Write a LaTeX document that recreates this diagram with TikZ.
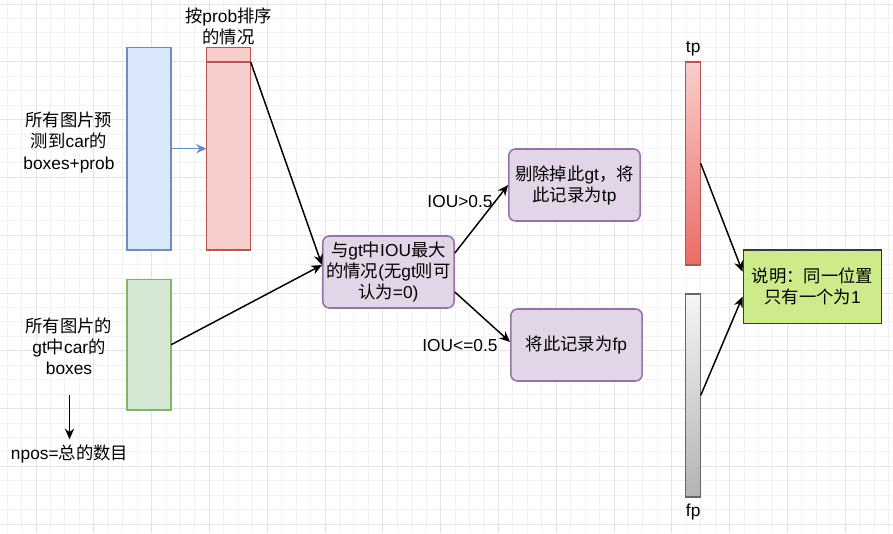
\documentclass[tikz,border=0pt]{standalone}
\usepackage{fontspec}
\setmainfont{Liberation Sans}
\newfontfamily\cjkfont{Noto Sans CJK SC}
% switch to the CJK font for Han characters and full-width punctuation
\XeTeXinterchartokenstate=1
\newXeTeXintercharclass\cjkchars
\newcount\cjkcode
\cjkcode="4E00
\loop\ifnum\cjkcode<"A000 \XeTeXcharclass\cjkcode=\cjkchars \advance\cjkcode by 1 \repeat
\XeTeXcharclass"FF0C=\cjkchars
\XeTeXcharclass"FF1A=\cjkchars
\XeTeXinterchartoks 0 \cjkchars={\begingroup\cjkfont}
\XeTeXinterchartoks 4095 \cjkchars={\begingroup\cjkfont}
\XeTeXinterchartoks \cjkchars 0={\endgroup}
\XeTeXinterchartoks \cjkchars 4095={\endgroup}
\usepackage{xcolor}
\definecolor{blueFill}{HTML}{DAE8FC}
\definecolor{blueLine}{HTML}{6C8EBF}
\definecolor{redFill}{HTML}{F8CECC}
\definecolor{redLine}{HTML}{B85450}
\definecolor{redDeep}{HTML}{EA6B66}
\definecolor{greenFill}{HTML}{D5E8D4}
\definecolor{greenLine}{HTML}{82B366}
\definecolor{purpleFill}{HTML}{E1D5E7}
\definecolor{purpleLine}{HTML}{9673A6}
\definecolor{noteFill}{HTML}{CDEB8B}
\definecolor{noteLine}{HTML}{36393D}
\definecolor{greyTop}{HTML}{F5F5F5}
\definecolor{greyBottom}{HTML}{B3B3B3}
\definecolor{greyLine}{HTML}{666666}
\definecolor{gridMinor}{HTML}{F2F2F2}
\definecolor{gridMajor}{HTML}{E3E3E3}
\usepackage{tikz}
\usetikzlibrary{arrows.meta, positioning, calc}

\begin{document}
\begin{tikzpicture}[
    x=0.75pt, y=-0.75pt,
    font=\fontsize{13}{15.8}\selectfont,
    >=Stealth,
    column/.style={draw, rectangle, line width=1.15pt, inner sep=0pt, outer sep=0pt, minimum width=33pt},
    decide/.style={draw=purpleLine, fill=purpleFill, rounded corners=5pt, line width=1.15pt, align=center,
                   minimum width=98.5pt, minimum height=54pt, inner sep=2pt},
    lbl/.style={align=center, inner sep=1pt},
    arr/.style={->, line width=1.1pt, -{Stealth[length=8pt, width=7pt]}}
]

% ── Canvas and grid ──
\useasboundingbox (0,0) rectangle (893,533);
\fill[white] (0,0) rectangle (893,533);
\foreach \i in {0,...,63} \draw[gridMinor, line width=0.6pt] ({-21.9+14.45*\i},0) -- ++(0,533);
\foreach \j in {0,...,38} \draw[gridMinor, line width=0.6pt] (0,{-10.55+14.45*\j}) -- ++(893,0);
\foreach \i in {0,...,15} \draw[gridMajor, line width=0.6pt] ({-21.9+57.8*\i},0) -- ++(0,533);
\foreach \j in {0,...,9} \draw[gridMajor, line width=0.6pt] (0,{3.9+57.8*\j}) -- ++(893,0);

% ── Left columns ──
\node[column, draw=blueLine, fill=blueFill, minimum height=152pt] (blue_col) at (149.2,148.7) {};
\node[column, draw=redLine, fill=redFill, minimum height=152pt] (red_col) at (228.7,148.7) {};
\node[column, draw=redLine, fill=redFill, minimum height=11pt] (red_top) at (228.7,54.7) {};
\node[column, draw=greenLine, fill=greenFill, minimum height=98pt] (green_col) at (149.2,344.7) {};

\node[lbl] (pred_lbl) at (69,142.5) {所有图片预\\测到car的\\boxes+prob};
\node[lbl] (sort_lbl) at (228.5,26.5) {按prob排序\\的情况};
\node[lbl] (gt_lbl) at (69,346) {所有图片的\\gt中car的\\boxes};
\node[lbl, inner sep=4pt] (npos_lbl) at (69.5,454) {npos=总的数目};
\coordinate (npos_start) at (69.5,395);

% ── Decision boxes ──
\node[decide] (iou_node) at (388.4,272) {与gt中IOU最大\\的情况(无gt则可\\认为=0)};
\node[decide] (tp_node) at (574.5,185) {剔除掉此gt，将\\此记录为tp};
\node[decide] (fp_node) at (576.5,345) {将此记录为fp};
\node[lbl] (hi_lbl) at (460,202) {IOU>0.5};
\node[lbl] (lo_lbl) at (460,346) {IOU<=0.5};

% ── Right bars ──
\node[column, draw=redLine, top color=redFill, bottom color=redDeep, minimum width=11.25pt, minimum height=152.5pt] (tp_bar) at (693.2,163.4) {};
\node[column, draw=greyLine, top color=greyTop, bottom color=greyBottom, minimum width=11.25pt, minimum height=152pt] (fp_bar) at (693.2,395.4) {};
\node[lbl] (tp_lbl) at (693.2,49) {tp};
\node[lbl] (fp_lbl) at (693.2,512) {fp};
\node[draw=noteLine, fill=noteFill, line width=1.15pt, align=center, minimum width=103.8pt, minimum height=55pt] (note_node) at (812.5,286.7) {说明：同一位置\\只有一个为1};

% ── Arrows ──
\draw[arr, draw=blueLine] (blue_col) -- (red_col);
\draw[arr] (npos_start) -- (npos_lbl);
\draw[arr] (red_top.south east) -- ($(iou_node.west)+(0,-7)$);
\draw[arr] (green_col.east) -- ($(iou_node.west)+(0,-7)$);
\draw[arr] ($(iou_node.east)+(0,-19)$) -- (tp_node.west);
\draw[arr] ($(iou_node.east)+(0,20)$) -- ($(fp_node.west)+(0,-3)$);
\draw[arr] (tp_bar.east) -- ($(note_node.west)+(0,-15)$);
\draw[arr] (fp_bar.east) -- ($(note_node.west)+(0,10)$);
\end{tikzpicture}
\end{document}
